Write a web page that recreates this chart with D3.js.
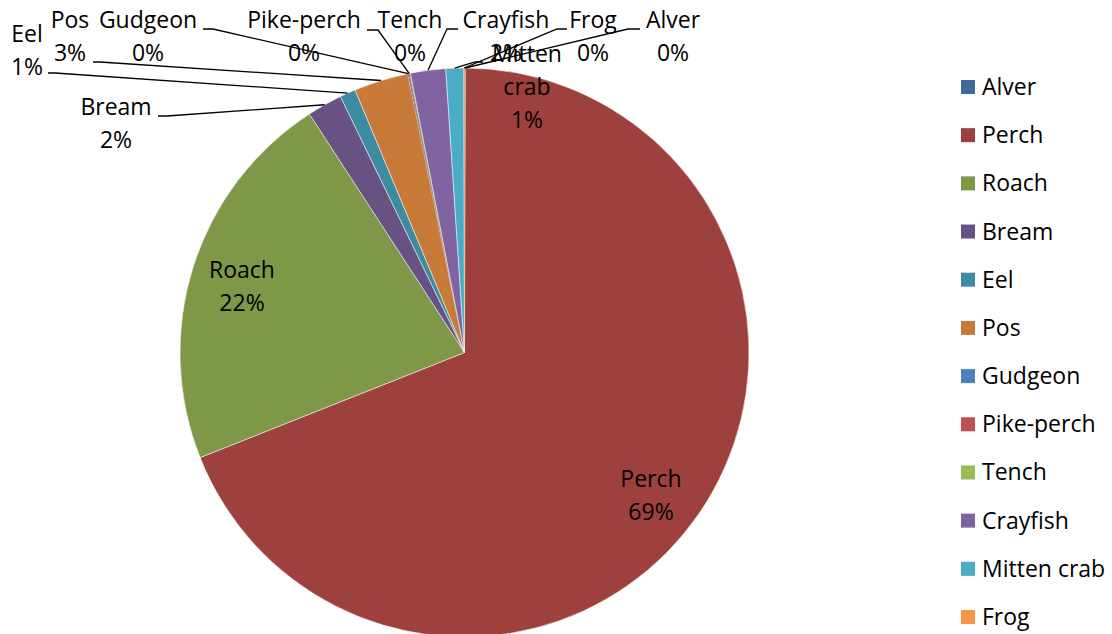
<!DOCTYPE html>
<html>
<head>
<meta charset="utf-8">
<script src="https://cdn.jsdelivr.net/npm/d3@7"></script>
<style>
  html, body { margin: 0; padding: 0; background: #fff; }
  svg { display: block; }
  text { font-family: "Open Sans", "Noto Sans", sans-serif; font-size: 23px; fill: #000; }
</style>
</head>
<body>
<svg id="chart" width="1112" height="634"></svg>
<script>
// ---- data ----
const categories = ["Alver", "Perch", "Roach", "Bream", "Eel", "Pos", "Gudgeon", "Pike-perch", "Tench", "Crayfish", "Mitten crab", "Frog"];
const values = [0.05, 69.1, 21.9, 2.0, 0.9, 3.1, 0.05, 0.05, 0.05, 2.0, 1.0, 0.05];
const colors = ["#406999", "#9E413E", "#7E9848", "#685183", "#3D8BA1", "#C87A39", "#4F81BD", "#C0504D", "#9BBB59", "#8064A2", "#4BACC6", "#F79646"];

// ---- layout of data labels (center x, first baseline y, optional leader stub [xStart, xEnd, y]) ----
const labelPos = {
  "Alver":       { x: 673, y: 28, stub: [628, 640, 29] },
  "Perch":       { x: 651, y: 487 },
  "Roach":       { x: 242, y: 278 },
  "Bream":       { x: 116, y: 115, stub: [167, 158, 116] },
  "Eel":         { x: 27,  y: 42,  stub: [55, 48, 73] },
  "Pos":         { x: 70,  y: 28,  stub: [100, 93, 62] },
  "Gudgeon":     { x: 148, y: 28,  stub: [213, 203, 29] },
  "Pike-perch":  { x: 304, y: 28,  stub: [378, 367, 30] },
  "Tench":       { x: 410, y: 28 },
  "Crayfish":    { x: 506, y: 28,  stub: [447, 458, 29] },
  "Mitten crab": { x: 527, y: 62,  stub: [475, 483, 62], wrap: true },
  "Frog":        { x: 593, y: 28,  stub: [557, 567, 29] }
};

const svg = d3.select("#chart");
const cx = 464.5, cy = 352.5, r = 284.5;
const lineH = 33;

const data = categories.map((c, i) => ({ name: c, value: values[i], color: colors[i] }));
const total = d3.sum(values);

const pie = d3.pie().sort(null).value(d => d.value);
const arcs = pie(data);
const arc = d3.arc().innerRadius(0).outerRadius(r);

const g = svg.append("g").attr("transform", `translate(${cx},${cy})`);
g.selectAll("path.slice")
  .data(arcs)
  .join("path")
  .attr("class", "slice")
  .attr("d", arc)
  .attr("fill", d => d.data.color)
  .attr("stroke", d => d.data.value < 0.5 ? "none" : "#fff")
  .attr("stroke-width", 0.5);

// leader lines
const leaderG = svg.append("g");
arcs.forEach(a => {
  const lp = labelPos[a.data.name];
  if (!lp || !lp.stub) return;
  const mid = (a.startAngle + a.endAngle) / 2;
  const ex = cx + r * Math.sin(mid);
  const ey = cy - r * Math.cos(mid);
  const [xs, xe, ys] = lp.stub;
  leaderG.append("polyline")
    .attr("points", `${xe},${ys} ${xs},${ys} ${ex},${ey}`)
    .attr("fill", "none")
    .attr("stroke", "#000")
    .attr("stroke-width", 1.3);
});

// data labels
const labelG = svg.append("g");
arcs.forEach(a => {
  const lp = labelPos[a.data.name];
  const pct = Math.round(a.data.value / total * 100) + "%";
  const lines = lp.wrap ? a.data.name.split(" ").concat([pct]) : [a.data.name, pct];
  const t = labelG.append("text").attr("text-anchor", "middle");
  lines.forEach((ln, i) => {
    t.append("tspan").attr("x", lp.x).attr("y", lp.y + i * lineH).text(ln);
  });
});

// legend
const legend = svg.append("g");
const ly = d3.scalePoint().domain(categories).range([87, 617]);
categories.forEach((c, i) => {
  const y = ly(c);
  legend.append("rect").attr("x", 961).attr("y", y - 7).attr("width", 14).attr("height", 14).attr("fill", colors[i]);
  legend.append("text").attr("x", 982).attr("y", y + 8).text(c);
});
</script>
</body>
</html>
